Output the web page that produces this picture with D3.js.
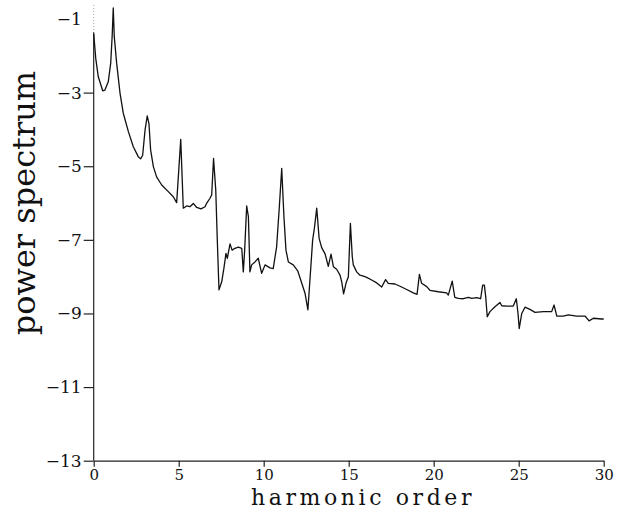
<!DOCTYPE html>
<html>
<head>
<meta charset="utf-8">
<script src="https://cdn.jsdelivr.net/npm/d3@7"></script>
<style>
    body { margin: 0; background: #ffffff; }
    .axis text { font-family: "DejaVu Serif", serif; fill: #111; }
    .x.axis text { font-size: 15px; }
    .y.axis text { font-size: 17px; }
    .axis line, .axis path { stroke: #222; stroke-width: 1.2px; }
</style>
</head>
<body>
<div id="spectrum_chart"></div>
<script>

// harmonic order (x) and log10 of the power spectrum (y)
const harmonic = [
    0.00, 0.12, 0.27, 0.53, 0.66, 0.86, 1.00, 1.09, 1.15, 1.21, 1.35, 1.55, 1.74, 2.04, 2.33, 2.62,
    2.76, 2.88, 3.02, 3.15, 3.25, 3.35, 3.51, 3.70, 4.00, 4.39, 4.68, 4.88, 5.12, 5.27, 5.47, 5.66,
    5.86, 6.06, 6.31, 6.55, 6.65, 6.84, 6.94, 7.05, 7.18, 7.27, 7.37, 7.53, 7.66, 7.78, 7.86, 8.02,
    8.14, 8.31, 8.51, 8.71, 8.80, 8.88, 9.00, 9.10, 9.19, 9.29, 9.49, 9.68, 9.88, 10.08, 10.37, 10.56,
    10.76, 10.92, 11.06, 11.19, 11.31, 11.45, 11.74, 12.00, 12.24, 12.43, 12.60, 12.72, 12.88, 12.98,
    13.12, 13.26, 13.41, 13.61, 13.80, 13.96, 14.10, 14.29, 14.49, 14.59, 14.70, 14.84, 14.98, 15.10,
    15.21, 15.27, 15.47, 15.66, 15.82, 16.06, 16.35, 16.65, 16.94, 17.17, 17.33, 17.72, 18.02, 18.41,
    18.80, 19.02, 19.16, 19.29, 19.59, 19.78, 20.27, 20.76, 20.86, 21.09, 21.24, 21.45, 21.74, 22.04,
    22.24, 22.53, 22.76, 22.88, 22.98, 23.06, 23.15, 23.31, 23.60, 23.90, 24.00, 24.29, 24.68, 24.86,
    24.96, 25.03, 25.18, 25.37, 25.66, 25.96, 26.45, 26.94, 27.08, 27.24, 27.62, 27.92, 28.41, 28.90,
    29.14, 29.39, 29.88, 30.00
];

const power = [
    -1.40, -2.07, -2.57, -2.95, -2.93, -2.70, -2.20, -1.43, -0.70, -1.48, -2.20, -3.02, -3.56, -4.06, -4.47, -4.74,
    -4.80, -4.70, -4.02, -3.63, -3.84, -4.56, -5.01, -5.29, -5.51, -5.69, -5.83, -5.99, -4.27, -6.14, -6.08, -6.10,
    -6.01, -6.12, -6.16, -6.10, -6.00, -5.87, -5.78, -4.79, -5.65, -7.00, -8.36, -8.14, -7.77, -7.37, -7.50, -7.11,
    -7.28, -7.23, -7.20, -7.23, -7.87, -7.28, -6.08, -6.37, -7.87, -7.68, -7.60, -7.50, -7.91, -7.68, -7.76, -7.78,
    -7.19, -6.10, -5.06, -6.37, -7.28, -7.60, -7.68, -7.84, -8.18, -8.45, -8.90, -8.09, -7.00, -6.69,
    -6.14, -6.96, -7.21, -7.38, -7.72, -7.39, -7.73, -7.80, -7.96, -8.14, -8.47, -8.18, -8.00, -6.55,
    -7.46, -7.68, -7.87, -7.96, -7.98, -8.02, -8.09, -8.17, -8.28, -8.08, -8.18, -8.20, -8.26, -8.35,
    -8.44, -8.48, -7.94, -8.18, -8.27, -8.37, -8.41, -8.44, -8.50, -8.12, -8.56, -8.59, -8.60, -8.56,
    -8.59, -8.57, -8.60, -8.23, -8.23, -8.55, -9.09, -8.95, -8.82, -8.70, -8.79, -8.80, -8.80, -8.60,
    -9.00, -9.41, -9.00, -8.83, -8.89, -8.97, -8.95, -8.95, -8.77, -9.07, -9.07, -9.04, -9.07, -9.07,
    -9.20, -9.13, -9.15, -9.15
];

// axis ticks
const xTicks = [0, 5, 10, 15, 20, 25, 30];
const yTicks = [-13, -11, -9, -7, -5, -3, -1];

function createSVG(width, height)
{
    // SVG container, whole window
    const svg = d3.select("#spectrum_chart")
        .append("svg")
        .attr("width", width)
        .attr("height", height);

    return svg;
}

function drawSpectrum()
{
    const width = 623;
    const height = 510;

    // plot box in pixels
    const left = 93.7, right = 603.7, top = 19, bottom = 460.7;

    const svg = createSVG(width, height);

    const x = d3.scaleLinear()
        .domain([0, 30])
        .range([left, right]);

    const y = d3.scaleLinear()
        .domain([-13, -1])
        .range([bottom, top]);

    const data = harmonic.map((h, i) => ({ h: h, p: power[i] }));

    // X axis
    svg.append("g")
        .attr("class", "x axis")
        .attr("transform", "translate(0," + y(-13) + ")")
        .call(d3.axisBottom(x).tickValues(xTicks).tickSize(6).tickSizeOuter(0).tickPadding(3).tickFormat(d3.format("d")));

    // Y axis (the spine is drawn by hand below)
    const yAxis = svg.append("g")
        .attr("class", "y axis")
        .attr("transform", "translate(" + x(0) + ",0)")
        .call(d3.axisLeft(y).tickValues(yTicks).tickSize(10).tickSizeOuter(0).tickPadding(2)
            .tickFormat(d => "\u2212" + Math.abs(d)));

    yAxis.select(".domain").remove();
    // no tick mark on the top label
    yAxis.selectAll(".tick").filter(d => d === -1).select("line").remove();

    // solid spine up to the top of the curve start
    svg.append("line")
        .attr("x1", x(0)).attr("x2", x(0))
        .attr("y1", y(-13)).attr("y2", y(-1.36))
        .style("stroke", "#222")
        .style("stroke-width", "1.2px");

    // faint dotted continuation above
    svg.append("line")
        .attr("x1", x(0)).attr("x2", x(0))
        .attr("y1", y(-1.3)).attr("y2", y(-0.6))
        .style("stroke", "#aaa")
        .style("stroke-width", "1px")
        .style("stroke-dasharray", "1,2");

    // spectrum line
    const line = d3.line()
        .x(d => x(d.h))
        .y(d => y(d.p));

    svg.append("path")
        .datum(data)
        .attr("d", line)
        .style("fill", "none")
        .style("stroke", "#111")
        .style("stroke-width", "1.3px")
        .style("stroke-linejoin", "round");

    // X-axis label
    svg.append("text")
        .attr("x", 363)
        .attr("y", 505)
        .attr("text-anchor", "middle")
        .style("font-family", "DejaVu Serif, serif")
        .style("font-size", "22px")
        .style("letter-spacing", "3.6px")
        .style("fill", "#111")
        .text("harmonic order");

    // Y-axis label
    svg.append("text")
        .attr("transform", "translate(35,203) rotate(-90)")
        .attr("text-anchor", "middle")
        .style("font-family", "DejaVu Serif, serif")
        .style("font-size", "32px")
        .style("fill", "#111")
        .text("power spectrum");
}

drawSpectrum();

</script>
</body>
</html>
